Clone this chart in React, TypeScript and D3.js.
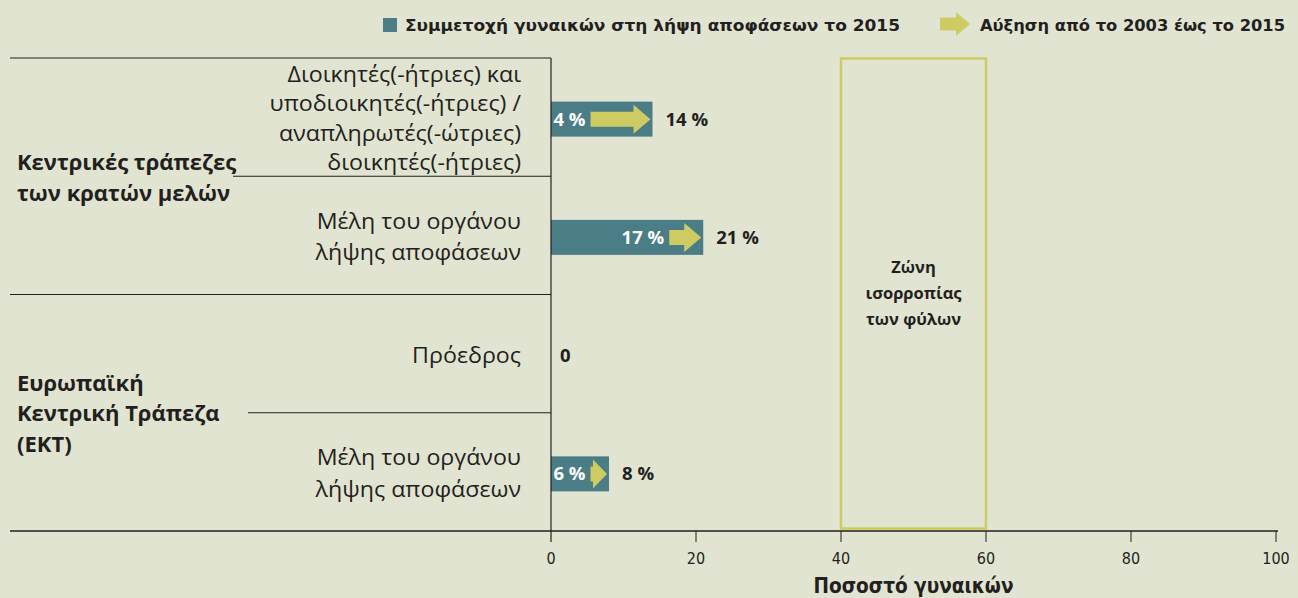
import React from "react";
import * as d3 from "d3";

const categories = [
  "Διοικητές(-ήτριες) και|υποδιοικητές(-ήτριες) /|αναπληρωτές(-ώτριες)|διοικητές(-ήτριες)",
  "Μέλη του οργάνου|λήψης αποφάσεων",
  "Πρόεδρος",
  "Μέλη του οργάνου|λήψης αποφάσεων",
];
const values2003 = [4, 17, 0, 6];
const values2015 = [14, 21, 0, 8];
const groups = ["Κεντρικές τράπεζες|των κρατών μελών", "Ευρωπαϊκή|Κεντρική Τράπεζα|(ΕΚΤ)"];
const xTicks = [0, 20, 40, 60, 80, 100];
const balanceZone = [40, 60];
const legendLabels = ["Συμμετοχή γυναικών στη λήψη αποφάσεων το 2015", "Αύξηση από το 2003 έως το 2015"];
const zoneLabel = "Ζώνη|ισορροπίας|των φύλων";
const axisTitle = "Ποσοστό γυναικών";

const W = 1298;
const H = 598;
const BG = "#e1e4d0";
const TEAL = "#4a7d86";
const YEL = "#cdcb62";
const INK = "#231f20";
const FONT = "'Open Sans', 'Noto Sans', sans-serif";
const NARROW = "'Liberation Sans Narrow', 'DejaVu Sans Condensed', 'Roboto', sans-serif";

function arrowPath(xa: number, xb: number, cy: number, shaftH: number, headH: number, headL: number) {
  const hl = Math.min(headL, (xb - xa) * 0.85);
  const xh = xb - hl;
  return `M${xa},${cy - shaftH}L${xh},${cy - shaftH}L${xh},${cy - headH}L${xb},${cy}L${xh},${cy + headH}L${xh},${cy + shaftH}L${xa},${cy + shaftH}Z`;
}

export default function App() {
  const x = d3.scaleLinear().domain([0, 100]).range([551, 1276]);
  const y = d3.scaleBand<number>().domain(d3.range(categories.length)).range([58, 531]);
  const axisY = 531;
  const barH = 35;
  const bw = y.bandwidth();

  return (
    <div style={{ position: "fixed", left: 0, top: 0, width: W, height: H, background: BG }}>
      <svg width={W} height={H} style={{ display: "block" }}>
        <rect x={0} y={0} width={W} height={H} fill={BG} />

        {/* Legend */}
        <rect x={383} y={18} width={14} height={14} fill={TEAL} />
        <text x={405} y={31} fontFamily={NARROW} fontWeight="bold" fontSize={16} fill={INK}
          textLength={495} lengthAdjust="spacingAndGlyphs">{legendLabels[0]}</text>
        <path d={arrowPath(940, 970, 24, 6.5, 12, 14)} fill={YEL} />
        <text x={980} y={31} fontFamily={NARROW} fontWeight="bold" fontSize={16} fill={INK}
          textLength={305} lengthAdjust="spacingAndGlyphs">{legendLabels[1]}</text>

        {/* Balance zone */}
        <rect x={x(balanceZone[0])} y={58.5} width={x(balanceZone[1]) - x(balanceZone[0])} height={470}
          fill="none" stroke={YEL} strokeWidth={2.5} />
        {zoneLabel.split("|").map((t, i) => (
          <text key={i} x={x((balanceZone[0] + balanceZone[1]) / 2)} y={273 + i * 26}
            textAnchor="middle" fontFamily={FONT} fontWeight="bold" fontSize={16.5} fill={INK}>{t}</text>
        ))}

        {/* separators */}
        <line x1={10} x2={551} y1={58} y2={58} stroke={INK} strokeWidth={1.2} />
        <line x1={233} x2={551} y1={y(1)!} y2={y(1)!} stroke={INK} strokeWidth={1.2} />
        <line x1={10} x2={551} y1={y(2)!} y2={y(2)!} stroke={INK} strokeWidth={1.2} />
        <line x1={248} x2={551} y1={y(3)!} y2={y(3)!} stroke={INK} strokeWidth={1.2} />

        {/* group labels */}
        {groups.map((g, gi) => {
          const lines = g.split("|");
          const center = gi === 0 ? y(1)! : y(3)!;
          const base = gi === 0 ? center - 6 : center - 22;
          return lines.map((t, i) => (
            <text key={gi + "-" + i} x={17} y={base + i * 30.5} fontFamily={FONT} fontWeight="bold"
              fontSize={22} fill={INK}>{t}</text>
          ));
        })}

        {/* row labels */}
        {categories.map((c, ci) => {
          const lines = c.split("|");
          const cy = y(ci)! + bw / 2 + 2;
          const lh = lines.length > 2 ? 29.3 : 31.5;
          const first = cy - ((lines.length - 1) * lh) / 2 + 7;
          return (
            <g key={ci} transform="translate(521,0) scale(1.08,1)">
              {lines.map((t, i) => (
                <text key={i} x={0} y={first + i * lh} textAnchor="end"
                  fontFamily={FONT} fontSize={21.5} fill={INK}>{t}</text>
              ))}
            </g>
          );
        })}

        {/* bars */}
        {values2015.map((v, i) => {
          const cy = y(i)! + bw / 2 + 2;
          const x0 = x(0);
          const xe = x(v);
          const startLabel = `${values2003[i]} %`;
          const lw = startLabel.length * 10.5;
          const arrowStart = Math.max(x(values2003[i]) - 5, x0 + 5 + lw + 3);
          return (
            <g key={i}>
              {v > 0 && <rect x={x0} y={cy - barH / 2} width={xe - x0} height={barH} fill={TEAL} />}
              {v > 0 && (
                <>
                  <path d={arrowPath(arrowStart, xe - 2, cy, 7.5, 14.5, 17)} fill={YEL} />
                  <text x={arrowStart - 5} y={cy + 6.5} textAnchor="end" fontFamily={FONT} fontWeight="bold"
                    fontSize={18.5} fill="#ffffff">{startLabel}</text>
                </>
              )}
              <text x={xe + (v > 0 ? 13 : 9)} y={cy + 6.5} fontFamily={FONT} fontWeight="bold" fontSize={18.5}
                fill={INK}>{v > 0 ? `${v} %` : `${v}`}</text>
            </g>
          );
        })}

        {/* axis */}
        <line x1={x(0)} x2={x(0)} y1={58} y2={542} stroke={INK} strokeWidth={1.2} />
        <line x1={10} x2={1278} y1={axisY} y2={axisY} stroke={INK} strokeWidth={1.5} />
        {xTicks.map((t) => (
          <g key={t}>
            {t > 0 && <line x1={x(t)} x2={x(t)} y1={axisY} y2={axisY + 11} stroke={INK} strokeWidth={1} />}
            <text x={x(t)} y={564} textAnchor="middle" fontFamily={NARROW} fontSize={16} fill={INK}>{t}</text>
          </g>
        ))}
        <text x={x(50)} y={593} textAnchor="middle" fontFamily={NARROW} fontWeight="bold" fontSize={21}
          fill={INK} textLength={200} lengthAdjust="spacingAndGlyphs">{axisTitle}</text>
      </svg>
    </div>
  );
}
